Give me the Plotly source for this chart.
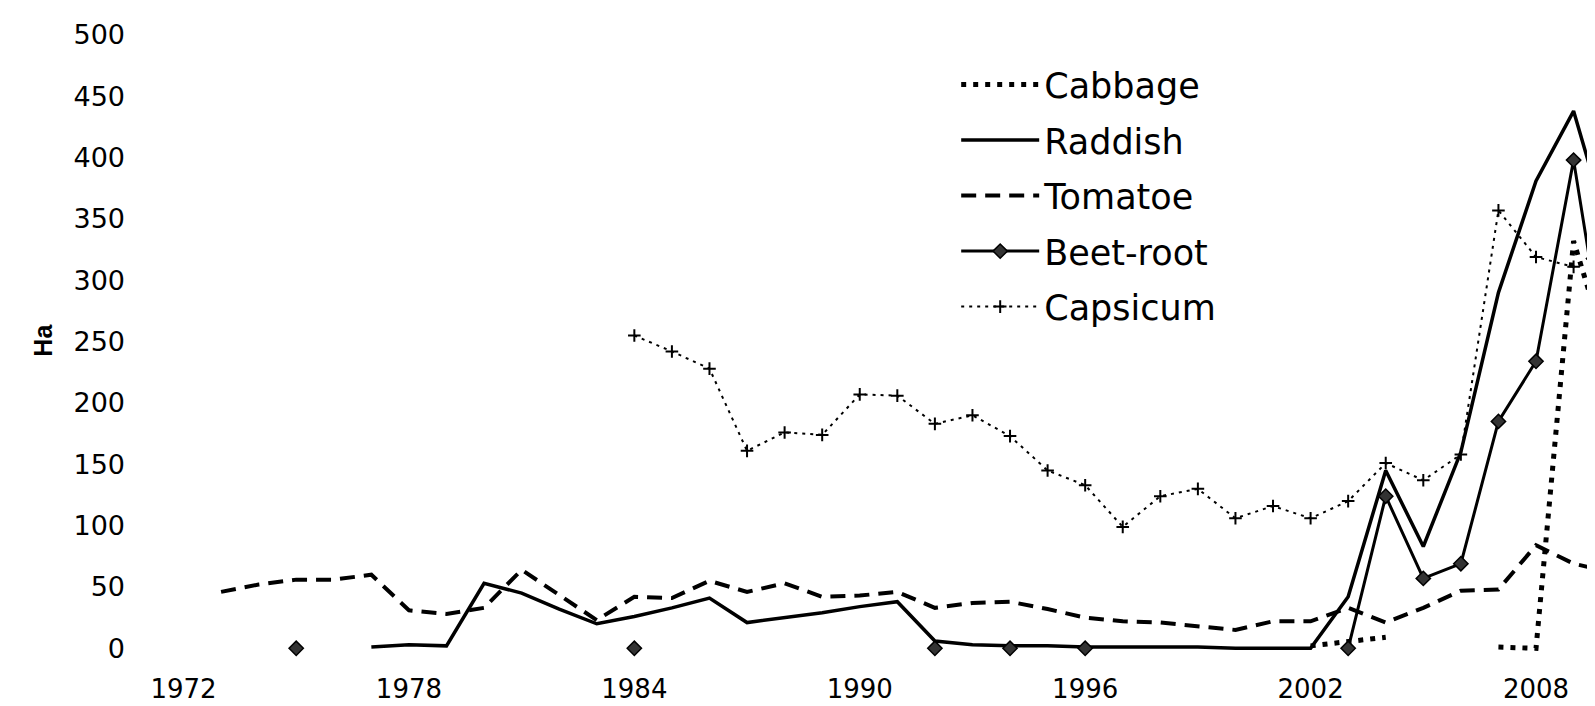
import plotly.graph_objects as go

years = list(range(1972, 2011))

def series(pairs):
    d = dict(pairs)
    return [d.get(y) for y in years]

# values (Ha); None = no data
cabbage = series([(2002, 2), (2003, 5), (2004, 9), (2007, 1), (2008, 0), (2009, 332), (2010, 232)])

raddish = series([(1977, 1), (1978, 3), (1979, 2), (1980, 53), (1981, 45), (1982, 32), (1983, 20),
                  (1984, 26), (1985, 33), (1986, 41), (1987, 21), (1988, 25), (1989, 29), (1990, 34),
                  (1991, 38), (1992, 6), (1993, 3), (1994, 2), (1995, 2), (1996, 1), (1997, 1),
                  (1998, 1), (1999, 1), (2000, 0), (2001, 0), (2002, 0), (2003, 42), (2004, 145),
                  (2005, 83), (2006, 160), (2007, 290), (2008, 381), (2009, 438), (2010, 333)])

tomatoe = series([(1973, 46), (1974, 52), (1975, 56), (1976, 56), (1977, 60), (1978, 31), (1979, 28),
                  (1980, 33), (1981, 64), (1982, 43), (1983, 23), (1984, 42), (1985, 41), (1986, 55),
                  (1987, 46), (1988, 53), (1989, 42), (1990, 43), (1991, 46), (1992, 33), (1993, 37),
                  (1994, 38), (1995, 32), (1996, 25), (1997, 22), (1998, 21), (1999, 18), (2000, 15),
                  (2001, 22), (2002, 22), (2003, 33), (2004, 21), (2005, 33), (2006, 47), (2007, 48),
                  (2008, 84), (2009, 69), (2010, 62)])

beetroot = series([(1975, 0), (1984, 0), (1992, 0), (1994, 0), (1996, 0), (2003, 0), (2004, 124),
                   (2005, 57), (2006, 69), (2007, 185), (2008, 234), (2009, 398), (2010, 208)])

capsicum = series([(1984, 255), (1985, 242), (1986, 228), (1987, 161), (1988, 176), (1989, 174),
                   (1990, 207), (1991, 206), (1992, 183), (1993, 190), (1994, 173), (1995, 145),
                   (1996, 133), (1997, 99), (1998, 124), (1999, 130), (2000, 106), (2001, 116),
                   (2002, 106), (2003, 120), (2004, 151), (2005, 137), (2006, 158), (2007, 357),
                   (2008, 319), (2009, 311), (2010, 330)])

x_ticks = [1972, 1978, 1984, 1990, 1996, 2002, 2008]
y_ticks = list(range(0, 501, 50))

fig = go.Figure()
fig.add_trace(go.Scatter(x=years, y=cabbage, name="Cabbage", mode="lines", legendgroup="a",
                         line=dict(color="black", width=5, dash="5px,7px"), cliponaxis=False))
fig.add_trace(go.Scatter(x=years, y=raddish, name="Raddish", mode="lines", legendgroup="b",
                         line=dict(color="black", width=3.5), cliponaxis=False))
fig.add_trace(go.Scatter(x=years, y=tomatoe, name="Tomatoe", mode="lines", legendgroup="c",
                         line=dict(color="black", width=4, dash="15px,9px"), cliponaxis=False))
fig.add_trace(go.Scatter(x=years, y=beetroot, name="Beet-root", mode="lines+markers", legendgroup="d",
                         line=dict(color="black", width=3),
                         marker=dict(symbol="diamond", size=11, color="#333",
                                     line=dict(color="black", width=1.5)), cliponaxis=False))
fig.add_trace(go.Scatter(x=years, y=capsicum, name="Capsicum", mode="lines+markers", legendgroup="e",
                         line=dict(color="black", width=2, dash="3px,5px"),
                         marker=dict(symbol="cross-thin", size=9, color="black",
                                     line=dict(color="black", width=2)), cliponaxis=False))

fig.add_annotation(text="<b>Ha</b>", xref="paper", yref="paper", x=-0.09, y=0.505,
                   xanchor="center", yanchor="middle", textangle=-90, showarrow=False,
                   font=dict(family="Liberation Sans", size=25, color="black"))

fig.update_layout(
    width=1595, height=706,
    margin=dict(l=164, r=0, t=27, b=62),
    paper_bgcolor="white", plot_bgcolor="white",
    showlegend=True,
    legend=dict(x=0.548, y=0.967, xanchor="left", yanchor="top",
                font=dict(family="DejaVu Sans", size=35, color="black"),
                itemwidth=78, tracegroupgap=7, bgcolor="rgba(0,0,0,0)"),
    xaxis=dict(range=[1971.694, 2009.783], tickmode="array", tickvals=x_ticks,
               ticktext=[str(v) for v in x_ticks], showgrid=False, zeroline=False,
               showline=False, ticks="", ticklabelstandoff=19,
               tickfont=dict(family="DejaVu Sans", size=26, color="black")),
    yaxis=dict(range=[-3, 500], tickmode="array", tickvals=y_ticks,
               ticktext=[str(v) for v in y_ticks], showgrid=False, zeroline=False,
               showline=False, ticks="", ticklabelstandoff=46,
               tickfont=dict(family="DejaVu Sans", size=27, color="black")),
)

fig.write_html("out.html")
